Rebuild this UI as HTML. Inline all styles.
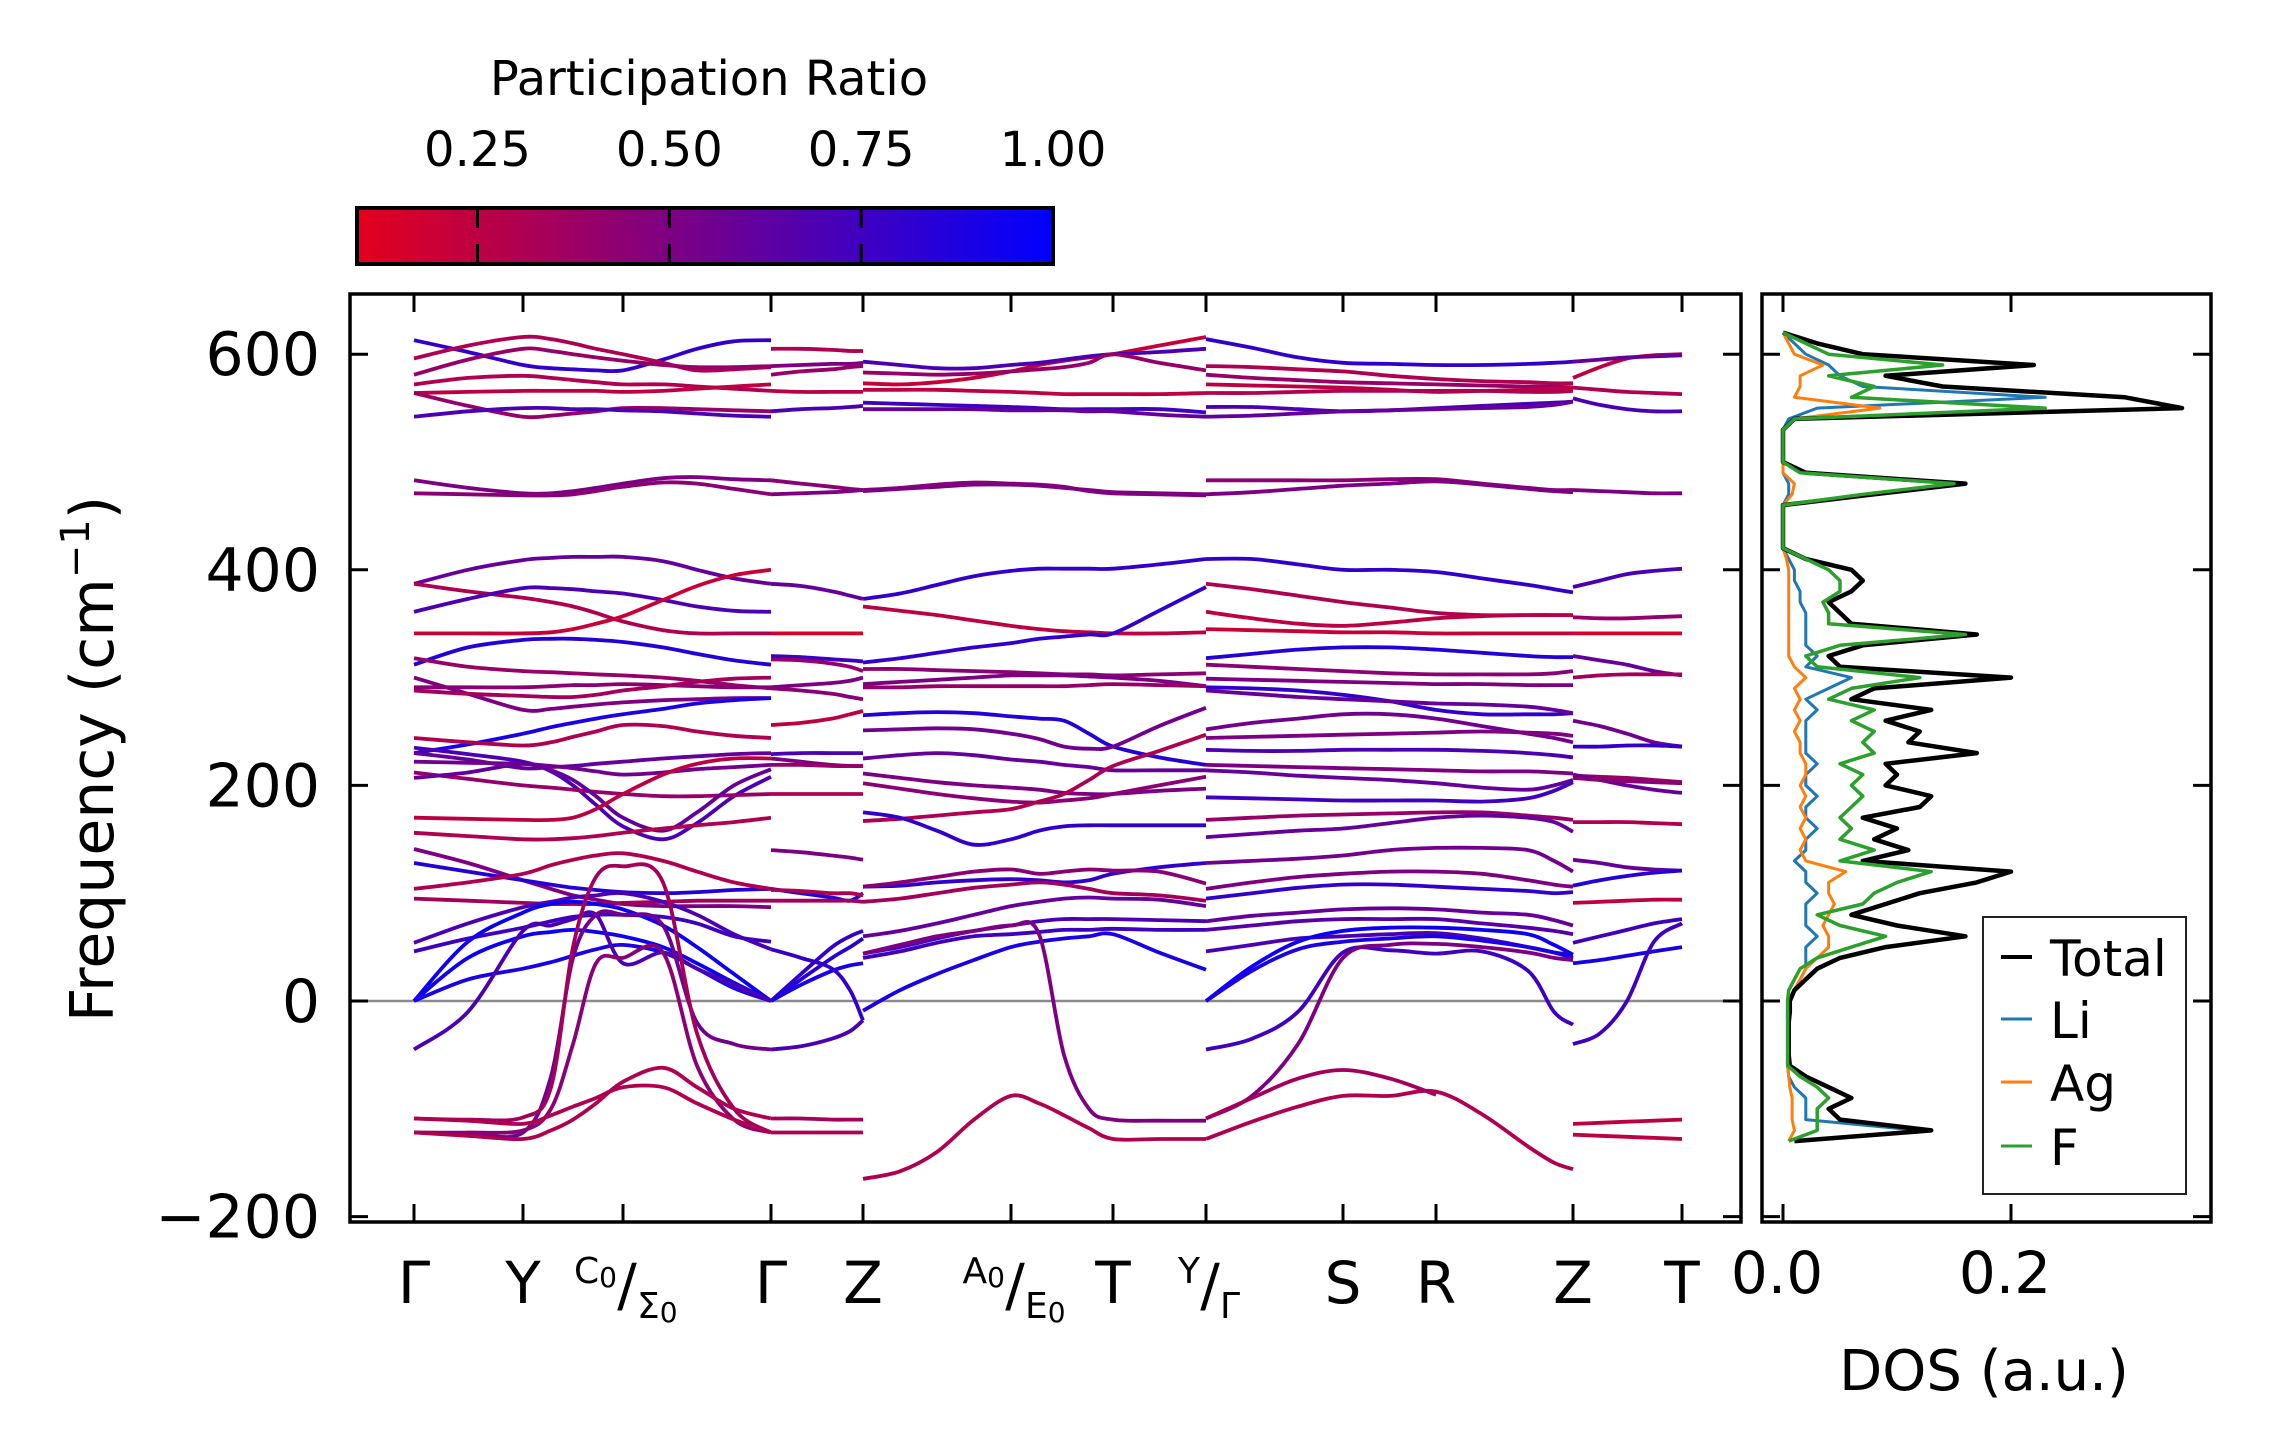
<!DOCTYPE html>
<html><head><meta charset="utf-8"><style>
html,body{margin:0;padding:0;background:#fff;}
svg{display:block;font-family:"DejaVu Sans","Liberation Sans",sans-serif;}
</style></head><body>
<svg id="chart" width="2271" height="1455" viewBox="0 0 2271 1455" xmlns="http://www.w3.org/2000/svg">
<defs>
<linearGradient id="cbgrad" x1="0" x2="1" y1="0" y2="0">
<stop offset="0" stop-color="rgb(228,0,28)"/><stop offset="1" stop-color="rgb(0,0,255)"/>
</linearGradient>
<clipPath id="mainclip"><rect x="350" y="294" width="1391" height="928"/></clipPath>
<clipPath id="dosclip"><rect x="1762" y="294" width="449" height="928"/></clipPath>
</defs>
<g id="bands" clip-path="url(#mainclip)"></g>
<g id="dos" clip-path="url(#dosclip)"></g>
<g id="axes"></g>
<text x="113" y="759" font-size="60" text-anchor="middle" transform="rotate(-90 113 759)">Frequency (cm<tspan font-size="40" dy="-24">−1</tspan><tspan dy="24">)</tspan></text>
<text x="1984" y="1390" font-size="56" text-anchor="middle">DOS (a.u.)</text>
<g>
<text x="709" y="95" font-size="48" text-anchor="middle">Participation Ratio</text>
<rect x="357" y="208" width="696" height="56" fill="url(#cbgrad)" stroke="#000" stroke-width="4"/>
<g id="cbticks"></g>
</g>
<g>
<rect x="1983" y="917" width="203" height="277" fill="#fff" stroke="#222" stroke-width="2"/>
<line x1="2001" x2="2032" y1="957" y2="957" stroke="#000" stroke-width="4"/>
<text x="2050" y="976" font-size="50">Total</text>
<line x1="2001" x2="2032" y1="1019" y2="1019" stroke="#1f77b4" stroke-width="3"/>
<text x="2050" y="1038" font-size="50">Li</text>
<line x1="2001" x2="2032" y1="1082" y2="1082" stroke="#ff7f0e" stroke-width="3"/>
<text x="2050" y="1101" font-size="50">Ag</text>
<line x1="2001" x2="2032" y1="1146" y2="1146" stroke="#2ca02c" stroke-width="3"/>
<text x="2050" y="1165" font-size="50">F</text>
</g>
</svg>
<script>
// ---- data ----
const kTicks = [0, 1.09, 2.09, 3.57, 4.49, 5.97, 6.99, 7.92, 9.29, 10.22, 11.59, 12.68];
const yTicks = [600, 400, 200, 0, -200];
const cbTicks = [0.25, 0.5, 0.75, 1.0];
const cbTickLabels = ["0.25", "0.50", "0.75", "1.00"];
const dosTicks = [0.0, 0.2];
const dosTickLabels = ["0.0", "0.2"];

const seg1K = [0,0.54,1.09,1.37,1.59,1.82,2.09,2.49,2.83,3.2,3.57];
const seg1F = [
[613,602,590,587,586,585,585,595,605,612,613],
[596,608,616,614,610,605,600,592,585,586,588],
[581,595,605,603,600,597,594,590,588,588,589],
[572,578,580,578,576,574,572,572,570,568,566],
[564,565,566,566,566,566,565,566,568,570,572],
[564,552,542,543,545,547,550,550,549,548,547],
[542,547,550,550,549,549,548,547,545,543,542],
[483,476,471,471,473,476,480,485,486,484,483],
[471,470,469,469,470,473,477,481,480,475,470],
[387,400,409,411,412,412,412,408,400,392,387],
[387,380,374,370,366,360,352,344,341,341,341],
[361,373,383,383,382,380,378,372,366,362,361],
[341,341,341,342,345,350,357,372,385,395,400],
[312,328,335,336,336,335,333,328,322,316,312],
[318,310,306,305,304,303,302,300,297,293,290],
[300,285,270,271,273,275,277,279,280,281,281],
[291,291,291,292,293,293,294,293,292,291,291],
[288,285,283,282,282,284,288,292,296,299,300],
[230,238,248,254,258,262,266,271,276,279,281],
[244,240,237,240,245,250,256,255,250,246,244],
[235,229,222,213,200,182,162,150,165,190,208],
[230,224,216,217,218,220,222,225,227,229,230],
[222,221,220,218,216,213,210,212,215,217,219],
[212,206,200,198,196,194,192,190,190,191,192],
[207,212,220,214,205,190,170,158,175,200,215],
[170,169,168,168,170,178,192,210,220,225,225],
[156,153,150,150,151,153,156,160,163,166,170],
[141,128,112,104,98,94,90,88,88,88,87],
[128,120,112,108,105,103,101,100,101,103,104],
[104,110,118,126,131,135,137,130,120,110,104],
[95,93,91,90,90,90,91,92,93,93,93],
[54,72,87,92,96,98,100,92,80,62,48],
[46,58,68,74,78,80,80,78,72,60,55],
[0,55,82,90,92,90,85,70,50,25,0],
[0,40,60,64,66,64,60,50,35,17,0],
[0,20,30,36,42,48,52,45,30,12,0],
[-45,-10,65,70,76,80,35,45,30,15,0],
[-122,-123,-122,-70,40,80,80,70,-20,-40,-45],
[-122,-122,-120,-100,-40,35,40,45,-60,-110,-122],
[-109,-110,-108,-80,50,115,125,110,-30,-100,-122],
[-109,-111,-114,-106,-98,-90,-80,-80,-95,-110,-122],
[-122,-125,-128,-120,-110,-95,-75,-62,-80,-100,-109]
];
const seg1PR = [.8,.3,.4,.3,.25,.4,.7,.5,.45,.6,.3,.7,.2,.85,.4,.5,.45,.35,.9,.3,.7,.6,.55,.4,.6,.25,.3,.5,.85,.3,.35,.7,.75,.95,.95,.9,.7,.55,.45,.35,.3,.3];

const seg2K = [3.57,3.87,4.18,4.36,4.49];
const seg2F = [
[605,605,604,603,603],[589,590,591,591,592],[581,584,586,588,589],[566,565,565,565,565],
[547,549,550,551,552],[483,480,477,475,474],[470,471,472,473,474],[387,385,380,376,373],
[341,341,341,341,341],[320,319,317,316,315],[317,316,313,310,306],[291,293,295,297,300],
[290,288,285,282,280],[256,258,262,266,269],[229,230,230,230,230],[225,222,219,218,218],
[219,219,218,218,218],[192,192,192,192,192],[140,138,135,133,131],[104,100,96,93,100],
[103,102,100,100,98],[93,93,93,93,92],[0,25,50,60,65],[0,20,40,50,58],[0,15,28,33,35],
[-45,-42,-35,-28,-18],[48,40,30,10,-18],[-109,-109,-110,-110,-110],[-122,-122,-122,-122,-122]
];
const seg2PR = [.3,.5,.4,.25,.7,.45,.5,.6,.15,.75,.4,.5,.45,.25,.7,.5,.4,.3,.5,.85,.3,.35,.8,.85,.9,.7,.8,.35,.3];

const seg3K = [4.49,4.86,5.23,5.6,5.97,6.25,6.5,6.75,6.99,7.45,7.92];
const seg3F = [
[573,572,574,578,584,590,594,597,600,608,616],
[593,590,587,587,590,592,595,598,600,602,605],
[583,582,581,582,584,586,588,592,600,592,585],
[567,567,567,566,565,564,563,563,563,563,564],
[555,554,553,552,551,550,549,549,549,549,546],
[549,549,549,549,548,548,548,547,547,544,542],
[474,476,479,481,480,479,477,473,471,470,469],
[473,475,477,479,479,478,476,474,472,471,470],
[373,378,386,394,399,401,401,401,401,405,410],
[366,362,358,353,348,345,343,342,341,341,342],
[314,318,323,328,332,336,338,340,341,362,384],
[308,308,307,306,305,304,303,303,302,303,304],
[294,296,298,300,302,302,302,301,300,297,292],
[291,291,292,292,292,292,292,293,294,293,292],
[265,267,268,267,264,262,260,248,236,226,219],
[251,252,253,252,248,243,236,234,236,255,272],
[225,228,230,228,224,222,219,217,214,214,214],
[211,207,203,200,198,196,193,192,192,195,197],
[202,197,192,188,185,184,186,188,192,200,208],
[167,169,172,175,178,185,192,205,218,232,247],
[175,170,158,145,150,158,162,163,163,163,163],
[106,107,110,112,113,112,110,112,118,124,128],
[106,110,115,120,122,118,120,122,121,120,109],
[92,95,100,105,108,110,108,104,100,98,93],
[60,65,72,80,88,92,95,96,95,94,88],
[44,50,58,65,70,74,76,76,76,75,74],
[40,46,54,60,62,64,66,66,67,66,66],
[-9,10,25,38,50,55,58,60,62,45,29],
[-165,-158,-140,-110,-88,-95,-106,-118,-128,-128,-128],
[44,52,60,65,70,62,-50,-100,-110,-111,-111]
];
const seg3PR = [.2,.7,.4,.25,.75,.6,.45,.5,.8,.25,.8,.45,.5,.4,.85,.55,.6,.5,.45,.3,.8,.8,.45,.35,.6,.7,.75,.9,.3,.5];

const seg4K = [7.92,8.38,8.84,9.29,9.76,10.22,10.68,11.14,11.4,11.59];
const seg4F = [
[614,606,597,592,591,590,590,591,592,593],
[589,588,586,584,580,577,575,574,573,573],
[581,578,576,574,573,572,571,570,570,569],
[572,571,570,569,567,565,566,567,568,569],
[564,564,565,566,566,566,566,565,565,566],
[551,551,549,547,548,550,552,554,555,556],
[542,543,545,547,548,549,550,551,553,556],
[483,483,483,483,484,484,480,476,474,474],
[470,472,475,478,480,482,479,475,473,472],
[410,410,405,400,400,398,392,386,382,379],
[387,382,376,370,365,360,358,358,358,358],
[361,355,350,348,351,355,357,358,358,358],
[345,344,343,342,342,341,341,341,341,341],
[318,322,326,328,328,326,323,320,319,319],
[312,310,308,306,304,303,303,303,304,306],
[299,298,297,296,295,294,294,293,293,293],
[291,290,288,284,278,270,266,266,266,267],
[288,285,282,280,278,276,275,273,270,267],
[252,258,262,266,266,262,255,248,244,240],
[244,245,246,247,248,249,250,249,248,246],
[233,232,232,233,233,233,232,230,228,226],
[219,218,217,216,215,214,213,213,212,211],
[214,212,209,207,205,202,198,196,200,205],
[189,188,187,186,186,186,185,188,195,203],
[168,170,172,173,174,175,175,172,170,168],
[152,155,158,160,165,170,172,170,166,157],
[128,130,132,135,140,142,142,140,130,120],
[104,110,115,118,120,120,118,112,108,106],
[95,100,105,108,108,106,104,102,100,101],
[74,79,82,85,86,85,82,80,75,70],
[66,70,74,76,76,76,72,68,65,62],
[46,52,58,60,62,63,58,50,45,43],
[0,32,55,65,68,68,66,62,52,43],
[0,28,48,55,58,60,56,50,45,40],
[-45,-35,-10,45,47,44,46,28,-10,-22],
[-109,-88,-40,40,52,53,50,45,40,38],
[-128,-112,-98,-88,-88,-84,-105,-135,-150,-156],
[-109,-90,-72,-64,-72,-87,null,null,null,null]
];
const seg4PR = [.8,.3,.4,.25,.3,.7,.6,.45,.5,.8,.3,.25,.2,.85,.45,.5,.8,.6,.55,.5,.7,.5,.6,.75,.4,.6,.55,.5,.8,.6,.65,.7,.95,.9,.75,.5,.3,.35];

const seg5K = [11.59,11.86,12.13,12.4,12.68];
const seg5F = [
[578,588,596,599,600],[593,595,597,598,599],[569,567,565,564,563],[559,553,549,547,547],
[474,473,472,471,471],[384,390,396,399,401],[356,355,355,356,357],[341,341,341,341,341],
[320,316,312,306,302],[300,302,303,303,303],[260,255,248,240,236],[236,236,237,237,236],
[209,208,207,205,203],[210,205,200,196,193],[207,205,204,203,202],[166,166,166,165,164],
[131,128,124,122,121],[107,112,116,119,121],[91,92,93,94,94],[54,60,66,72,76],[35,38,42,46,50],
[-40,-30,0,55,72],[-114,-113,-112,-111,-110],[-124,-125,-126,-127,-128]
];
const seg5PR = [.25,.6,.3,.7,.5,.7,.4,.15,.6,.35,.55,.8,.4,.6,.45,.3,.6,.85,.25,.75,.9,.75,.25,.25];

// DOS data
const dosFreq = [-130,-120,-110,-100,-90,-80,-70,-60,-50,-40,-30,-20,-10,0,10,20,30,40,50,60,70,80,90,100,110,120,130,140,150,160,170,180,190,200,210,220,230,240,250,260,270,280,290,300,310,320,330,340,350,360,370,380,390,400,410,420,430,440,450,460,470,480,490,500,510,520,530,540,550,560,570,580,590,600,610,620];
const dosTotal = [0.01,0.13,0.05,0.04,0.06,0.04,0.02,0.006,0.005,0.005,0.005,0.005,0.006,0.006,0.01,0.02,0.03,0.05,0.09,0.16,0.1,0.06,0.09,0.12,0.17,0.2,0.07,0.11,0.08,0.1,0.07,0.12,0.13,0.09,0.1,0.09,0.17,0.11,0.12,0.09,0.13,0.06,0.08,0.2,0.05,0.04,0.07,0.17,0.06,0.05,0.04,0.06,0.07,0.06,0.02,0,0,0,0,0,0.08,0.16,0.02,0,0,0,0,0.01,0.35,0.3,0.14,0.09,0.22,0.07,0.03,0];
const dosLi = [0.01,0.12,0.02,0.02,0.02,0.01,0.005,0.004,0.004,0.004,0.004,0.004,0.005,0.005,0.01,0.015,0.02,0.02,0.02,0.03,0.02,0.02,0.02,0.03,0.02,0.02,0.01,0.02,0.02,0.03,0.02,0.02,0.03,0.02,0.02,0.03,0.02,0.02,0.02,0.02,0.03,0.02,0.04,0.06,0.02,0.03,0.02,0.02,0.02,0.02,0.015,0.015,0.01,0.01,0.005,0,0,0,0,0,0.005,0.005,0,0,0,0,0,0.005,0.03,0.23,0.07,0.05,0.04,0.02,0.01,0];
const dosAg = [0.005,0.01,0.008,0.008,0.008,0.006,0.005,0.004,0.004,0.004,0.004,0.004,0.004,0.005,0.01,0.015,0.02,0.03,0.04,0.04,0.035,0.04,0.045,0.04,0.04,0.055,0.02,0.015,0.02,0.015,0.02,0.015,0.02,0.015,0.02,0.02,0.015,0.015,0.01,0.015,0.01,0.015,0.01,0.02,0.01,0.005,0.005,0.005,0.005,0.005,0.005,0.005,0.005,0.005,0.003,0,0,0,0,0,0.008,0.01,0,0,0,0,0,0.01,0.085,0.01,0.015,0.015,0.035,0.01,0.005,0];
const dosF = [0.005,0.03,0.03,0.03,0.04,0.03,0.015,0.004,0.004,0.004,0.004,0.004,0.004,0.004,0.005,0.01,0.015,0.03,0.06,0.09,0.05,0.03,0.07,0.08,0.1,0.13,0.05,0.08,0.05,0.06,0.05,0.06,0.07,0.06,0.07,0.05,0.08,0.07,0.08,0.06,0.08,0.04,0.06,0.12,0.03,0.02,0.05,0.16,0.04,0.04,0.035,0.05,0.05,0.04,0.02,0,0,0,0,0,0.07,0.15,0.015,0,0,0,0,0.01,0.23,0.06,0.08,0.04,0.14,0.04,0.02,0];

// ---- scales ----
const KMAX = 12.68;
function xK(k){ return 414 + k*(1682-414)/KMAX; }
function yF(f){ return 1001 - f*1.078; }
function xD(d){ return 1783 + d*1140; }
function prColor(p){ const t=Math.max(0,Math.min(1,(p-0.093)/0.907)); return 'rgb('+Math.round(228*(1-t))+',0,'+Math.round(28+227*t)+')'; }

const NS='http://www.w3.org/2000/svg';
function mk(tag, attrs, parent){ const e=document.createElementNS(NS,tag); for(const a in attrs) e.setAttribute(a,attrs[a]); parent.appendChild(e); return e; }

function smooth(pts){
  let d='M'+pts[0][0].toFixed(1)+','+pts[0][1].toFixed(1);
  for(let i=0;i<pts.length-1;i++){
    const p0=pts[Math.max(0,i-1)], p1=pts[i], p2=pts[i+1], p3=pts[Math.min(pts.length-1,i+2)];
    const c1x=p1[0]+(p2[0]-p0[0])/6, c1y=p1[1]+(p2[1]-p0[1])/6;
    const c2x=p2[0]-(p3[0]-p1[0])/6, c2y=p2[1]-(p3[1]-p1[1])/6;
    d+=' C'+c1x.toFixed(1)+','+c1y.toFixed(1)+' '+c2x.toFixed(1)+','+c2y.toFixed(1)+' '+p2[0].toFixed(1)+','+p2[1].toFixed(1);
  }
  return d;
}

const gB=document.getElementById('bands');
const zl=mk('line',{x1:350,x2:1741,y1:yF(0),y2:yF(0),stroke:'#8a8a8a','stroke-width':2.5},gB);


const segs=[[seg1K,seg1F,seg1PR],[seg2K,seg2F,seg2PR],[seg3K,seg3F,seg3PR],[seg4K,seg4F,seg4PR],[seg5K,seg5F,seg5PR]];
segs.forEach((s,si)=>{
  const K=s[0];
  s[1].forEach((band,bi)=>{
    let runs=[],cur=[];
    band.forEach((f,i)=>{ if(f===null){ if(cur.length>1) runs.push(cur); cur=[]; } else cur.push([xK(K[i]),yF(f)]); });
    if(cur.length>1) runs.push(cur);
    runs.forEach(r=>{
      const p=mk('path',{d:smooth(r),fill:'none',stroke:prColor(s[2][bi]),'stroke-width':3.8,'stroke-linecap':'butt'},gB);
      
      
    });
  });
});

// DOS
const gD=document.getElementById('dos');
[[dosLi,'#1f77b4',3,'dos-li'],[dosAg,'#ff7f0e',3,'dos-ag'],[dosTotal,'#000',4.5,'dos-total'],[dosF,'#2ca02c',3.5,'dos-f']].forEach(s=>{
  const pts=s[0].map((v,i)=>xD(v).toFixed(1)+','+yF(dosFreq[i]).toFixed(1)).join(' ');
  const pl=mk('polyline',{points:pts,fill:'none',stroke:s[1],'stroke-width':s[2],'stroke-linejoin':'round'},gD);
  
  
});

// Axes
const gA=document.getElementById('axes');
const f1=mk('rect',{x:350,y:294,width:1391,height:928,fill:'none',stroke:'#000','stroke-width':3.5},gA);


const f2=mk('rect',{x:1762,y:294,width:449,height:928,fill:'none',stroke:'#000','stroke-width':3.5},gA);


const TL=18;
kTicks.forEach(k=>{
  const x=xK(k);
  const t1=mk('line',{x1:x,x2:x,y1:294,y2:294+TL,stroke:'#000','stroke-width':3},gA);
  
  
  const t2=mk('line',{x1:x,x2:x,y1:1222,y2:1222-TL,stroke:'#000','stroke-width':3},gA);
  
  
});
yTicks.forEach(v=>{
  const y=yF(v);
  [[350,350+TL],[1741,1741-TL],[1762,1762+TL],[2211,2211-TL]].forEach(xx=>{
    const t=mk('line',{x1:xx[0],x2:xx[1],y1:y,y2:y,stroke:'#000','stroke-width':3},gA);
    
    
  });
  const lb=mk('text',{x:320,y:y+21,'font-size':60,'text-anchor':'end'},gA);
  lb.textContent=(v<0?'−':'')+Math.abs(v);
  
  
});
dosTicks.forEach((d,i)=>{
  const x=xD(d);
  [[294,294+TL],[1222,1222-TL]].forEach(yy=>{
    const t=mk('line',{x1:x,x2:x,y1:yy[0],y2:yy[1],stroke:'#000','stroke-width':3},gA);
    
    
  });
  const lb=mk('text',{x:x-6,y:1293,'font-size':58,'text-anchor':'middle'},gA);
  lb.textContent=dosTickLabels[i];
  
  
});
// k labels
function simpleLabel(txt,k){
  const t=mk('text',{x:xK(k),y:1303,'font-size':58,'text-anchor':'middle'},gA);
  t.textContent=txt;
  
  
}
function fracLabel(top,bot,k){
  const x=xK(k);
  const g=mk('g',{},gA);
  
  
  const a=mk('text',{x:x-6,y:1283,'font-size':36,'text-anchor':'end'},g); a.innerHTML=top;
  const s=mk('text',{x:x+4,y:1305,'font-size':58,'text-anchor':'middle'},g); s.textContent='/';
  const b=mk('text',{x:x+14,y:1318,'font-size':36,'text-anchor':'start'},g); b.innerHTML=bot;
}
simpleLabel('Γ',kTicks[0]); simpleLabel('Y',kTicks[1]);
fracLabel('C<tspan font-size="28" dy="4">0</tspan>','Σ<tspan font-size="28" dy="4">0</tspan>',kTicks[2]);
simpleLabel('Γ',kTicks[3]); simpleLabel('Z',kTicks[4]);
fracLabel('A<tspan font-size="28" dy="4">0</tspan>','E<tspan font-size="28" dy="4">0</tspan>',kTicks[5]);
simpleLabel('T',kTicks[6]);
fracLabel('Y','Γ',kTicks[7]);
simpleLabel('S',kTicks[8]); simpleLabel('R',kTicks[9]); simpleLabel('Z',kTicks[10]); simpleLabel('T',kTicks[11]);

// colorbar ticks
const gC=document.getElementById('cbticks');
function xCB(v){ return 357 + (v-0.093)/(1-0.093)*696; }
cbTicks.forEach((v,i)=>{
  const x=xCB(v);
  if(v<1){
    const t1=mk('line',{x1:x,x2:x,y1:208,y2:228,stroke:'#000','stroke-width':3},gC);
    
    
    const t2=mk('line',{x1:x,x2:x,y1:244,y2:264,stroke:'#000','stroke-width':3},gC);
    
    
  }
  const lb=mk('text',{x:x,y:166,'font-size':48,'text-anchor':'middle'},gC);
  lb.textContent=cbTickLabels[i];
  
  
});
</script>
</body></html>
